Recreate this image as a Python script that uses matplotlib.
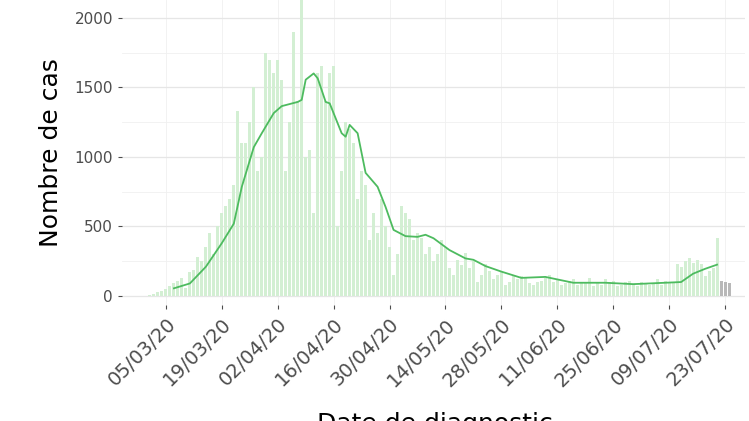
import numpy as np
import matplotlib.pyplot as plt
import matplotlib.dates as mdates
from datetime import date, timedelta

# daily cases, 01/03/20 -> 24/07/20 (last 3 days incomplete, grey)
cases = [
    10, 15, 25, 35, 50, 70, 90,
    110, 130, 60, 170, 190, 280, 250,
    350, 450, 300, 500, 600, 650, 700,
    800, 1330, 1100, 1100, 1250, 1500, 900,
    1000, 1750, 1700, 1600, 1700, 1550, 900,
    1250, 1900, 1400, 2150, 1000, 1050, 600,
    1600, 1650, 1400, 1600, 1650, 500, 900,
    1250, 1200, 1100, 700, 900, 800, 400,
    600, 450, 700, 500, 350, 150, 300,
    650, 600, 550, 400, 450, 420, 300,
    350, 250, 300, 400, 350, 200, 150,
    260, 220, 310, 200, 250, 100, 150,
    230, 180, 120, 150, 170, 80, 100,
    150, 120, 140, 130, 90, 80, 100,
    110, 130, 150, 100, 120, 80, 90,
    110, 120, 80, 100, 90, 130, 70,
    90, 80, 120, 100, 110, 70, 80,
    100, 110, 80, 70, 100, 90, 80,
    90, 120, 80, 110, 90, 100, 230,
    210, 250, 270, 240, 260, 230, 140,
    180, 200, 420, 110, 100, 90,
]
n_incomplete = 3

# smoothed curve
smooth_dates = [
    "2020-03-07", "2020-03-11", "2020-03-15", "2020-03-19", "2020-03-22",
    "2020-03-24", "2020-03-27", "2020-03-29", "2020-04-01", "2020-04-03",
    "2020-04-07", "2020-04-08", "2020-04-09", "2020-04-11", "2020-04-12",
    "2020-04-14", "2020-04-15", "2020-04-18", "2020-04-19", "2020-04-20",
    "2020-04-22", "2020-04-24", "2020-04-27", "2020-04-29", "2020-05-01",
    "2020-05-04", "2020-05-07", "2020-05-09", "2020-05-11", "2020-05-15",
    "2020-05-19", "2020-05-21", "2020-05-24", "2020-05-28", "2020-06-02",
    "2020-06-08", "2020-06-15", "2020-06-23", "2020-06-30", "2020-07-08",
    "2020-07-12", "2020-07-15", "2020-07-18", "2020-07-21",
]
smooth_vals = [
    55, 90, 210, 380, 520,
    785, 1070, 1170, 1315, 1365,
    1395, 1410, 1555, 1600, 1565,
    1395, 1385, 1170, 1145, 1230,
    1170, 885, 785, 640, 475,
    430, 425, 440, 415, 330,
    270, 260, 215, 175, 130,
    137, 95, 95, 85, 95,
    100, 160, 195, 225,
]

days = [date(2020, 3, 1) + timedelta(days=i) for i in range(len(cases))]
colors = ["#d3efd3"] * (len(cases) - n_incomplete) + ["#b8b8b8"] * n_incomplete
sdates = [date.fromisoformat(d) for d in smooth_dates]

fig = plt.figure(figsize=(7.49, 4.21), dpi=100)
ax = fig.add_axes([122 / 749, 1 - 305 / 421, (745 - 122) / 749, 305 / 421])

ax.bar(days, cases, width=0.75, color=colors, zorder=2)
ax.plot(sdates, smooth_vals, color="#4dbb5f", lw=1.3, zorder=3)

ax.set_ylim(-65, 2128)
ax.set_xlim(date(2020, 2, 23), date(2020, 7, 28))
ax.set_yticks([0, 500, 1000, 1500, 2000])
ax.set_yticks([250, 750, 1250, 1750], minor=True)
ax.grid(axis="y", which="major", color="#e6e6e6", lw=0.9, zorder=0)
ax.grid(axis="y", which="minor", color="#f0f0f0", lw=0.6, zorder=0)
ax.grid(axis="x", which="major", color="#f0f0f0", lw=0.6, zorder=0)

ticks = [date(2020, 3, 5) + timedelta(days=14 * i) for i in range(11)]
ax.set_xticks(ticks)
ax.xaxis.set_major_formatter(mdates.DateFormatter("%d/%m/%y"))
for lab in ax.get_xticklabels():
    lab.set_rotation(45)
    lab.set_ha("right")
    lab.set_rotation_mode("anchor")

ax.tick_params(axis="x", labelsize=14, colors="#4d4d4d", length=3, width=0.8, pad=4)
ax.tick_params(axis="y", labelsize=11, colors="#4d4d4d", length=3, width=0.8)
ax.tick_params(which="minor", length=0)
for s in ax.spines.values():
    s.set_visible(False)

ax.set_ylabel("Nombre de cas", fontsize=18, labelpad=8)
fig.text(0.58, 0.022, "Date de diagnostic", fontsize=18, ha="center", va="top")

fig.savefig("out.png", dpi=100)
